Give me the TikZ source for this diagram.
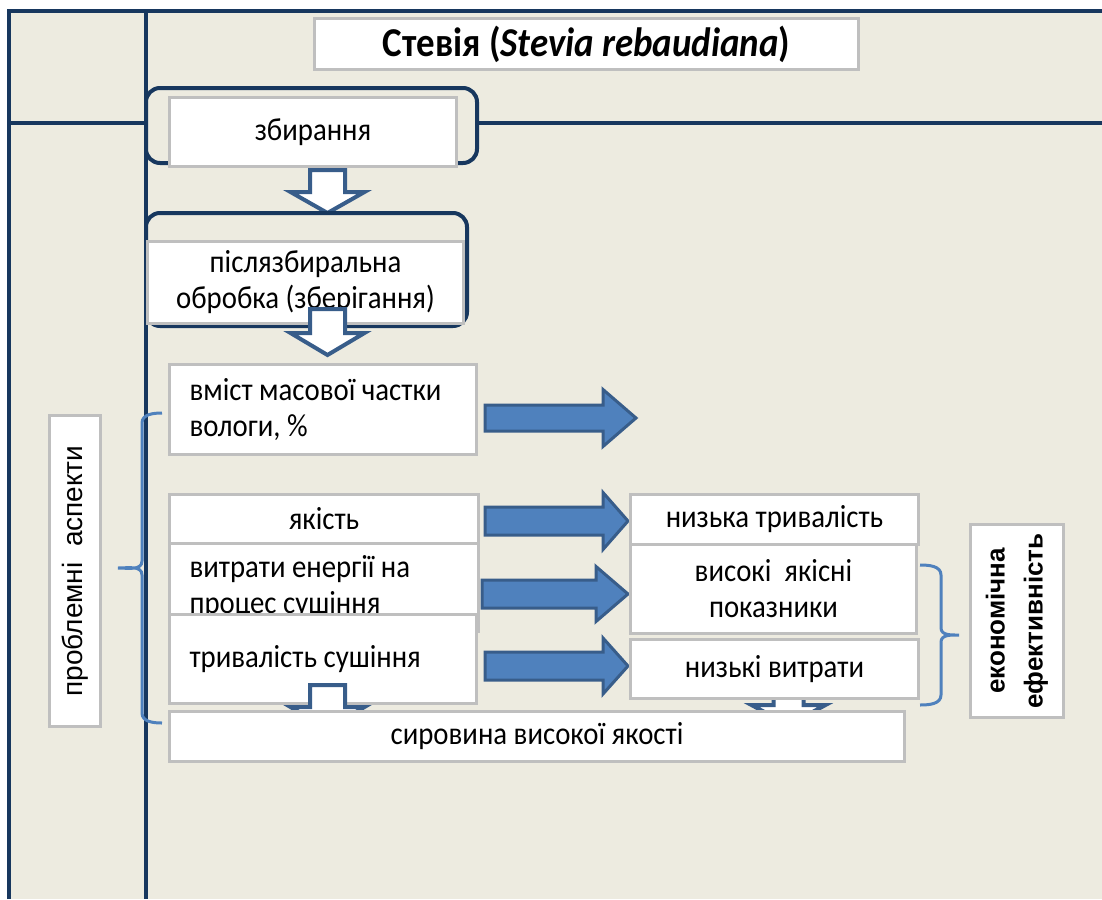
\documentclass[tikz,border=0pt]{standalone}
\usepackage{fontspec}
\setmainfont{Carlito}[FakeStretch=0.9]
\newfontfamily\arialf{Liberation Sans}
\definecolor{bgbeige}{HTML}{EDEBE0}
\definecolor{navy}{HTML}{17375E}
\definecolor{boxgray}{HTML}{BFBFBF}
\definecolor{arrowedge}{HTML}{385D8A}
\definecolor{arrowfill}{HTML}{4F81BD}
\definecolor{bracecol}{HTML}{4F81BD}
\newcommand\dnarrow[6]{% cx, shaft half, head half, top, head start, tip
  \draw[outarrow] ({#1-#2},#4) -- ({#1+#2},#4) -- ({#1+#2},#5) -- ({#1+#3},#5) -- (#1,#6)
    -- ({#1-#3},#5) -- ({#1-#2},#5) -- cycle;}
\newcommand\rtarrow[6]{% x0, cy, shaft half, head x, head half, tip
  \draw[blockarrow] (#1,{#2-#3}) -- (#4,{#2-#3}) -- (#4,{#2-#5}) -- (#6,#2) -- (#4,{#2+#5})
    -- (#4,{#2+#3}) -- (#1,{#2+#3}) -- cycle;}
\tikzset{
  box/.style={draw=boxgray, line width=3pt, fill=white, inner sep=0pt, anchor=north west,
    font=\fontsize{32}{36}\selectfont, align=center},
  navyline/.style={draw=navy, line width=4pt},
  roundbox/.style={draw=navy, line width=4pt, rounded corners=14pt, fill=bgbeige},
  outarrow/.style={draw=arrowedge, line width=4pt, fill=white, line join=miter},
  blockarrow/.style={fill=arrowfill, draw=arrowedge, line width=3pt, line join=miter},
  bracestyle/.style={draw=bracecol, line width=3pt},
}
\begin{document}
\begin{tikzpicture}[x=1pt,y=-1pt]
\useasboundingbox (0,0) rectangle (1102,899);
\fill[white] (0,0) rectangle (1102,899);
\fill[bgbeige] (9,11) rectangle (1102,899);
% frame lines
\draw[navyline] (9,899) -- (9,11) -- (1102,11);
\draw[navyline] (146,11) -- (146,899);
\draw[navyline] (9,123) -- (1102,123);
% title
\node[box, minimum width=544pt, minimum height=51pt, font=\fontsize{41}{43}\selectfont\bfseries] (title) at (313,17)
  {Стевія (\textit{Stevia rebaudiana})};
% harvesting
\draw[roundbox] (146,88) rectangle (477,163);
\node[box, minimum width=287pt, minimum height=69pt] (harv) at (168,96) {збирання};
\dnarrow{327.5}{17.5}{37}{170}{192}{213}
% post-harvest
\draw[roundbox] (146,213) rectangle (467,326);
\node[box, minimum width=316pt, minimum height=82pt] (post) at (146,240) {післязбиральна\\обробка (зберігання)};
\dnarrow{327.5}{17.5}{37}{309}{333}{355}
% left column boxes
\node[box, minimum width=307pt, minimum height=90pt, text width=267pt, align=flush left] (moist) at (168,363)
  {вміст масової частки\\вологи, \%};
\node[box, minimum width=309pt, minimum height=49pt] (qual) at (168,493) {якість};
\node[box, minimum width=309pt, minimum height=88pt, text width=269pt, align=flush left] (energy) at (168,542)
  {витрати енергії на\\процес сушіння};
\node[box, minimum width=307pt, minimum height=89pt, text width=267pt, align=flush left] (dur) at (168,613)
  {тривалість сушіння};
% small down arrows hidden behind boxes
\dnarrow{327.5}{17.5}{37}{685}{707}{729}
\dnarrow{788.5}{15}{37}{690}{705}{725}
% bottom box
\node[box, minimum width=735pt, minimum height=50pt] (raw) at (168,710) {сировина високої якості};
% block arrows
\rtarrow{485}{418}{13}{603}{28.5}{636}
\rtarrow{485}{521}{14}{603}{28.5}{628}
\rtarrow{482}{594}{14}{596}{27.5}{628}
\rtarrow{485}{666}{14}{603}{28}{628}
% right boxes
\node[box, minimum width=288pt, minimum height=50pt] (lowdur) at (629,493) {низька тривалість};
\node[box, minimum width=286pt, minimum height=89pt] (highq) at (629,543) {високі~~якісні\\показники};
\node[box, minimum width=288pt, minimum height=59pt] (lowcost) at (629,638) {низькі витрати};
% braces
\draw[bracestyle] (162,413) to[out=180,in=90] (142,423) -- (142,561) to[out=-90,in=0] (118,568)
  to[out=0,in=90] (142,575) -- (142,713) to[out=-90,in=180] (162,723);
\draw[bracestyle] (920,565) to[out=0,in=90] (941,575) -- (941,628) to[out=-90,in=180] (959,635)
  to[out=180,in=90] (941,642) -- (941,695) to[out=-90,in=0] (920,705);
% side labels
\node[box, minimum width=51pt, minimum height=311pt] (prob) at (48,414) {};
\node[rotate=90, font=\arialf\fontsize{28}{30}\selectfont] (probtxt) at (prob.center) {проблемні~~аспекти};
\node[box, minimum width=93pt, minimum height=193pt] (econ) at (969,523) {};
\node[rotate=90, align=center, font=\arialf\bfseries\fontsize{26}{38}\selectfont] (econtxt) at (econ.center)
  {економічна\\ефективність};
\end{tikzpicture}
\end{document}
